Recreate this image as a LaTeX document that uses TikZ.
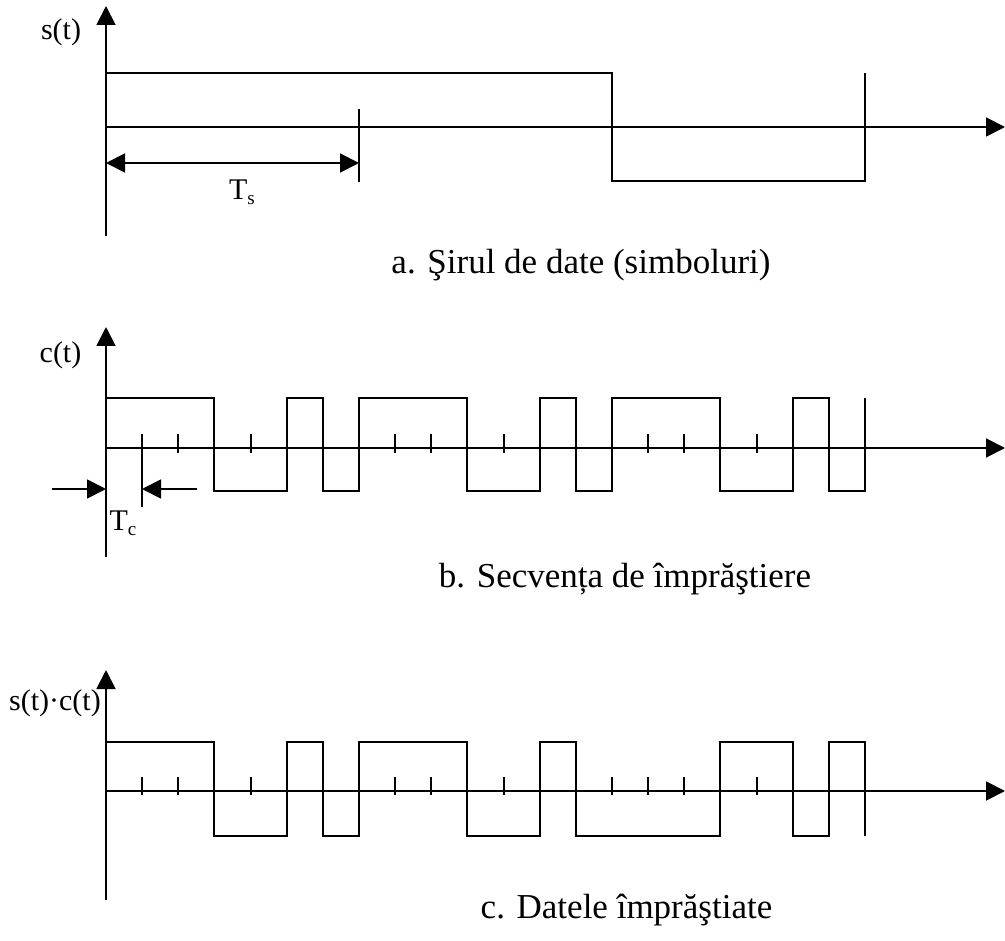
\documentclass[tikz,border=0pt]{standalone}
\usepackage{fontspec}
\setmainfont{Liberation Serif}
\usetikzlibrary{arrows.meta}

\begin{document}
\begin{tikzpicture}[x=1pt, y=-1pt,
  line/.style={line width=1.9pt, line join=miter},
  axis/.style={line width=1.9pt, -{Triangle[length=19pt, width=19pt]}},
  dimline/.style={line width=1.9pt, {Triangle[length=19pt, width=19pt]}-{Triangle[length=19pt, width=19pt]}},
  pointer/.style={line width=1.9pt, -{Triangle[length=19pt, width=19pt]}},
  lbl/.style={font=\fontsize{30}{36}\selectfont, inner sep=0pt, anchor=base},
  caption/.style={font=\fontsize{35}{42}\selectfont, inner sep=0pt, anchor=base},
  chips/.style={x=36.143pt, xshift=106pt}
]
\useasboundingbox (0,0) rectangle (1005,941);

% ---------- a. data symbols s(t) ----------
\draw[axis] (106,236) -- (106,6);
\draw[axis] (106,127) -- (1005,127);
\begin{scope}[chips]
  \draw[line] (0,73) -- (14,73) -- (14,181) -- (21,181) -- (21,73);
  \draw[line] (7,109) -- (7,182);
  \draw[dimline] (0,163) -- (7,163);
\end{scope}
\node[lbl] (st) at (61,40) {s(t)};
\node[lbl] (ts) at (242,200) {T\raisebox{-5pt}{\fontsize{19}{22}\selectfont s}};
\node[caption] (capa) at (581,274) {a. Şirul de date (simboluri)};

% ---------- b. spreading sequence c(t) ----------
\draw[axis] (106,557) -- (106,327);
\draw[axis] (106,448) -- (1005,448);
\begin{scope}[chips]
  \draw[line] (0,398) -- (3,398) -- (3,491) -- (5,491) -- (5,398) -- (6,398)
    -- (6,491) -- (7,491) -- (7,398) -- (10,398) -- (10,491) -- (12,491)
    -- (12,398) -- (13,398) -- (13,491) -- (14,491) -- (14,398) -- (17,398)
    -- (17,491) -- (19,491) -- (19,398) -- (20,398) -- (20,491) -- (21,491)
    -- (21,398);
  \foreach \k in {1,...,20} \draw[line] (\k,434) -- (\k,453);
  \draw[line] (1,434) -- (1,507);
\end{scope}
\coordinate (tcl) at (52,489);
\coordinate (tcr) at (197,489);
\draw[pointer] (tcl) -- (106,489);
\draw[pointer] (tcr) -- (142,489);
\node[lbl] (ct) at (60.5,363) {c(t)};
\node[lbl] (tc) at (123,530) {T\raisebox{-5pt}{\fontsize{19}{22}\selectfont c}};
\node[caption] (capb) at (625,587) {b. Secvența de împrăştiere};

% ---------- c. spread data s(t)c(t) ----------
\draw[axis] (106,900) -- (106,670);
\draw[axis] (106,791) -- (1005,791);
\begin{scope}[chips]
  \draw[line] (0,742) -- (3,742) -- (3,836) -- (5,836) -- (5,742) -- (6,742)
    -- (6,836) -- (7,836) -- (7,742) -- (10,742) -- (10,836) -- (12,836)
    -- (12,742) -- (13,742) -- (13,836) -- (17,836) -- (17,742) -- (19,742)
    -- (19,836) -- (20,836) -- (20,742) -- (21,742) -- (21,836);
  \foreach \k in {1,...,20} \draw[line] (\k,777) -- (\k,795);
\end{scope}
\node[lbl] (sct) at (55,710) {s(t)·c(t)};
\node[caption] (capc) at (626.5,918) {c. Datele împrăştiate};
\end{tikzpicture}
\end{document}
